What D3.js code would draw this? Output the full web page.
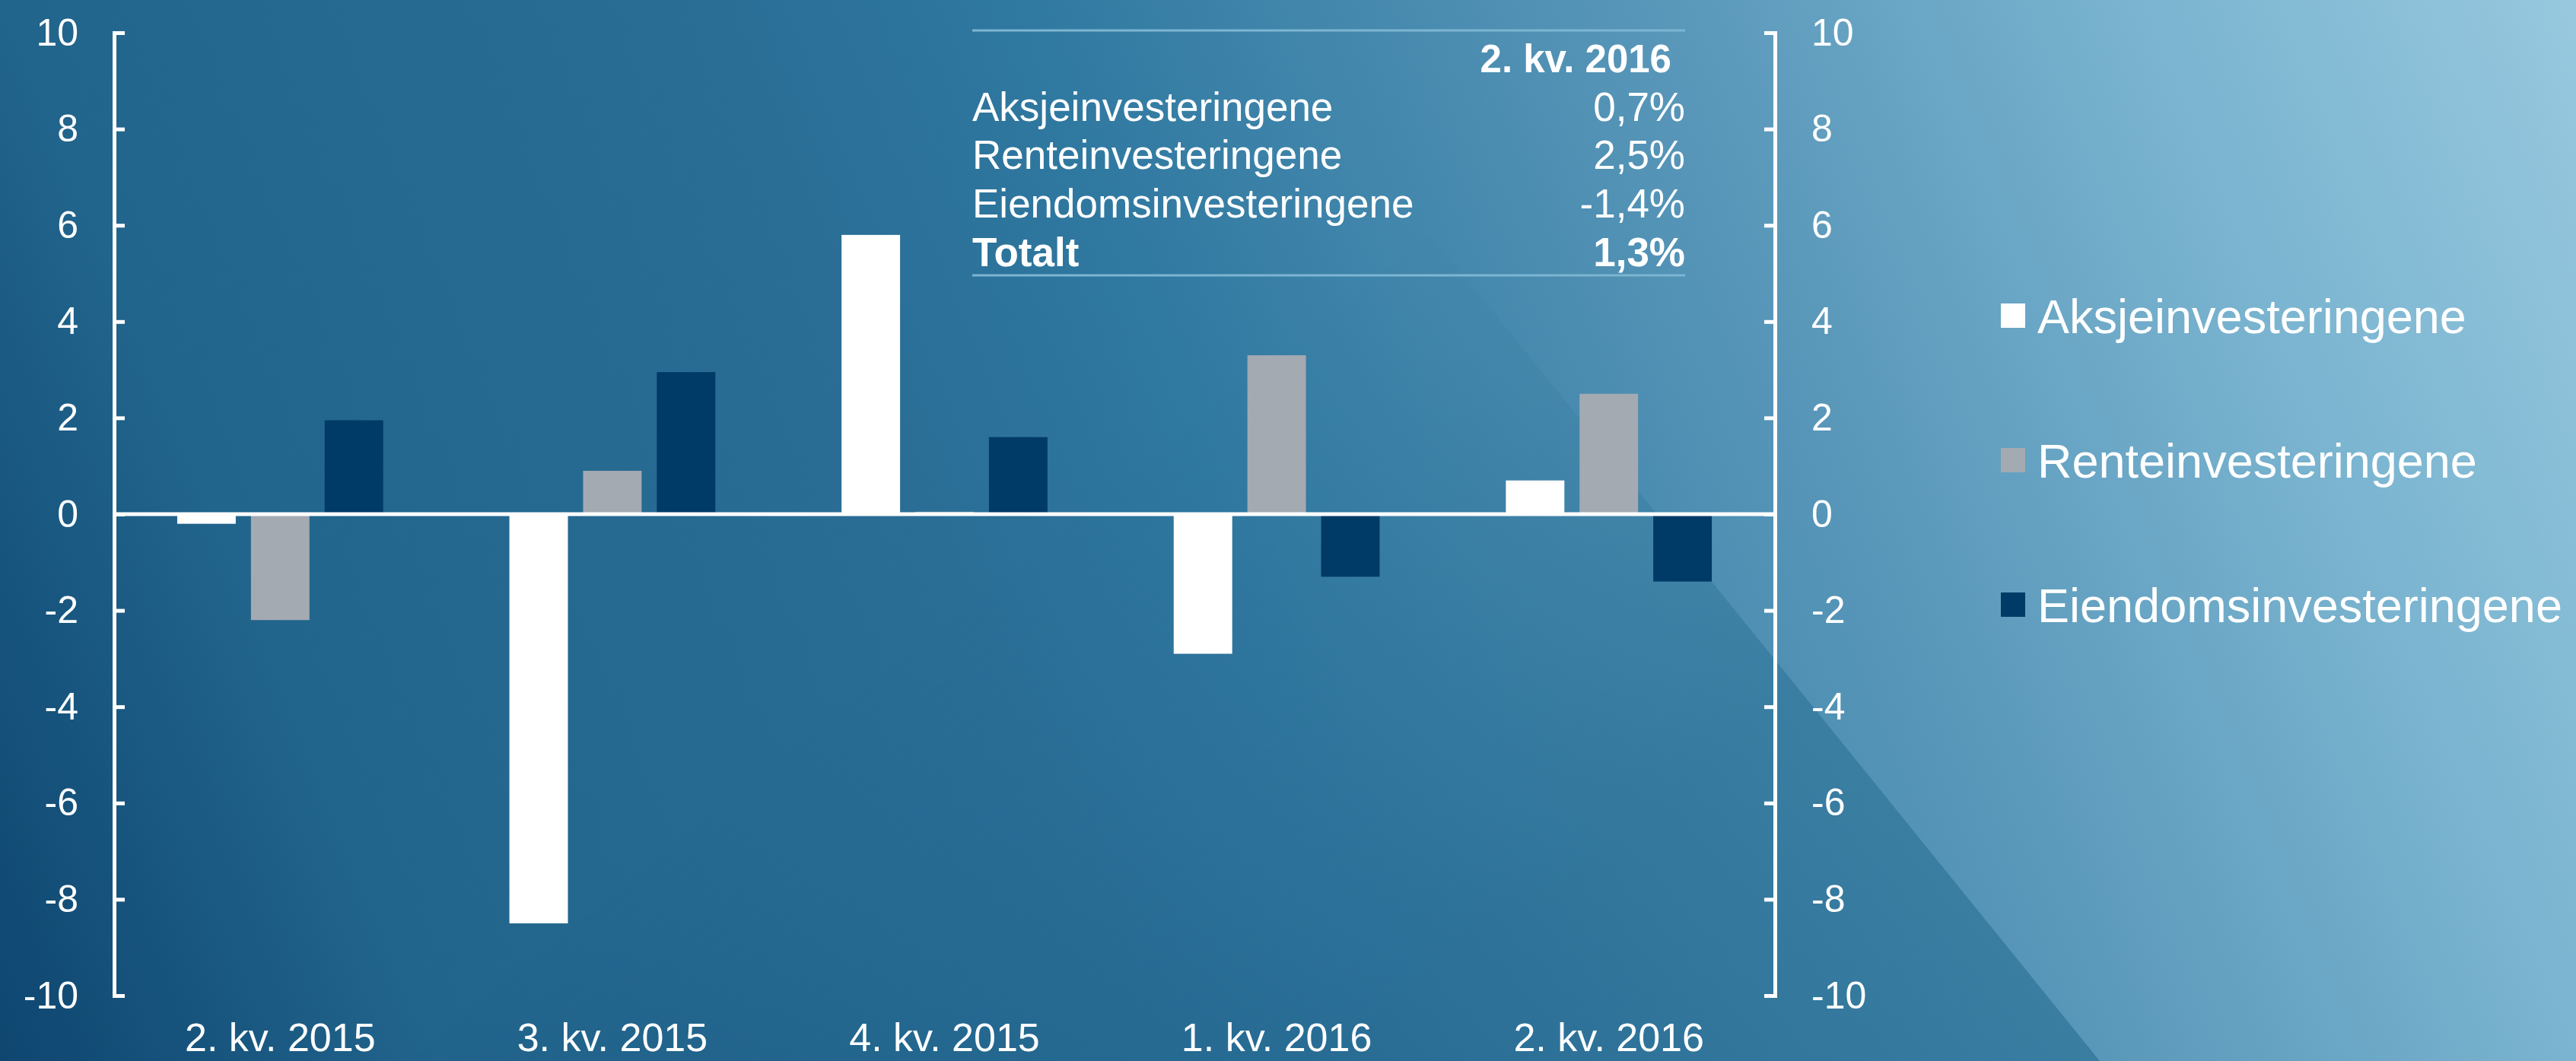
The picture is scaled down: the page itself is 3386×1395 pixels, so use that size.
<!DOCTYPE html>
<html>
<head>
<meta charset="utf-8">
<script src="https://cdn.jsdelivr.net/npm/d3@7"></script>
<style>
  html, body { margin: 0; padding: 0; overflow: hidden; background: #1a5a85; }
  svg { display: block; }
  text { font-family: "Liberation Sans", Arial, sans-serif; fill: #fff; }
</style>
</head>
<body>
<svg id="chart"></svg>
<script>
// DATA
const categories = ["2. kv. 2015", "3. kv. 2015", "4. kv. 2015", "1. kv. 2016", "2. kv. 2016"];
const seriesNames = ["Aksjeinvesteringene", "Renteinvesteringene", "Eiendomsinvesteringene"];
const aksje = [-0.2, -8.5, 5.8, -2.9, 0.7];
const rente = [-2.2, 0.9, 0.05, 3.3, 2.5];
const eiendom = [1.95, 2.95, 1.6, -1.3, -1.4];
const yTicks = [-10, -8, -6, -4, -2, 0, 2, 4, 6, 8, 10];
const tableHeader = "2. kv. 2016";
const tableLabels = ["Aksjeinvesteringene", "Renteinvesteringene", "Eiendomsinvesteringene", "Totalt"];
const tableValues = ["0,7%", "2,5%", "-1,4%", "1,3%"];

const colors = ["#ffffff", "#a4aab1", "#003a66"];

// 1: SIZES
const W = 3386, H = 1395;
const plot = { left: 150, right: 2333, top: 43, bottom: 1309 };

const svg = d3.select("#chart").attr("width", W).attr("height", H);
const defs = svg.append("defs");

// 2: BACKGROUND
// base gradient (light side + top)
const gBase = defs.append("linearGradient").attr("id", "bgBase")
    .attr("gradientUnits", "userSpaceOnUse")
    .attr("x1", 0).attr("y1", H).attr("x2", W).attr("y2", 0);
[[0, "#0e4670"], [0.145, "#21648c"], [0.385, "#2a6e96"], [0.48, "#2f78a0"],
 [0.7, "#5a98ba"], [0.855, "#7ab4d0"], [1, "#97c8de"]]
    .forEach(s => gBase.append("stop").attr("offset", s[0]).attr("stop-color", s[1]));

// darker side, left of the diagonal
const gLeft = defs.append("linearGradient").attr("id", "bgLeft")
    .attr("gradientUnits", "userSpaceOnUse")
    .attr("x1", 0).attr("y1", H).attr("x2", 3472).attr("y2", -1689);
[[0, "#0e4670"], [0.2, "#21648c"], [0.3, "#2a6e96"], [0.45, "#3a7ea2"], [0.7, "#5a97ba"], [1, "#8cc0da"]]
    .forEach(s => gLeft.append("stop").attr("offset", s[0]).attr("stop-color", s[1]));

const gMask = defs.append("linearGradient").attr("id", "fadeGrad")
    .attr("gradientUnits", "userSpaceOnUse")
    .attr("x1", 2760).attr("y1", H).attr("x2", 1631).attr("y2", 0);
gMask.append("stop").attr("offset", 0).attr("stop-color", "#fff");
gMask.append("stop").attr("offset", 0.35).attr("stop-color", "#fff");
gMask.append("stop").attr("offset", 0.55).attr("stop-color", "#888");
gMask.append("stop").attr("offset", 0.78).attr("stop-color", "#000");
defs.append("mask").attr("id", "fadeMask")
    .append("rect").attr("width", W).attr("height", H).attr("fill", "url(#fadeGrad)");

svg.append("rect").attr("width", W).attr("height", H).attr("fill", "url(#bgBase)");
svg.append("path")
    .attr("d", `M0,0 L1631,0 L2760,${H} L0,${H} Z`)
    .attr("fill", "url(#bgLeft)")
    .attr("mask", "url(#fadeMask)");

// 3: SCALES
const x0 = d3.scaleBand().domain(categories)
    .range([plot.left, plot.right]).paddingInner(0.38).paddingOuter(0.19);
const x1 = d3.scaleBand().domain(seriesNames)
    .range([0, x0.bandwidth()]).paddingInner(0.206);
const y = d3.scaleLinear().domain([-10, 10]).range([plot.bottom, plot.top]);

const rows = categories.map((c, i) => ({ cat: c, vals: [aksje[i], rente[i], eiendom[i]] }));

// 4: BARS
svg.append("g").selectAll("g")
    .data(rows)
    .join("g")
    .attr("transform", d => `translate(${x0(d.cat)},0)`)
    .selectAll("rect")
    .data(d => d.vals.map((v, j) => ({ name: seriesNames[j], v: v, j: j })))
    .join("rect")
    .attr("x", d => x1(d.name))
    .attr("width", x1.bandwidth())
    .attr("y", d => y(Math.max(0, d.v)))
    .attr("height", d => Math.abs(y(d.v) - y(0)))
    .attr("fill", d => colors[d.j]);

// zero line
svg.append("line")
    .attr("x1", plot.left).attr("x2", plot.right)
    .attr("y1", y(0)).attr("y2", y(0))
    .attr("stroke", "#fff").attr("stroke-width", 5);

// 5: AXES
function styleAxis(g) {
    g.attr("color", "#fff");
    g.selectAll("path.domain").attr("stroke-width", 5);
    g.selectAll(".tick line").attr("stroke-width", 5);
    g.selectAll("text").attr("font-size", 50).attr("font-family", "Liberation Sans, Arial, sans-serif").style("fill", "#fff");
}

svg.append("g")
    .attr("transform", `translate(${plot.left},0)`)
    .call(d3.axisLeft(y).tickValues(yTicks).tickFormat(d => String(d)).tickSize(-14).tickPadding(47))
    .call(styleAxis);

svg.append("g")
    .attr("transform", `translate(${plot.right},0)`)
    .call(d3.axisRight(y).tickValues(yTicks).tickFormat(d => String(d)).tickSize(-14).tickPadding(48))
    .call(styleAxis);

const xAxis = svg.append("g")
    .attr("transform", `translate(0,${plot.bottom})`)
    .call(d3.axisBottom(x0).tickSize(0).tickPadding(36));
xAxis.select(".domain").remove();
xAxis.selectAll("text").attr("font-size", 52).style("fill", "#fff");

// 6: TABLE
const tbl = { left: 1278, right: 2215, top: 40, bottom: 362 };
const lineColor = "#7db5d2";
svg.append("line").attr("x1", tbl.left).attr("x2", tbl.right)
    .attr("y1", tbl.top).attr("y2", tbl.top)
    .attr("stroke", lineColor).attr("stroke-width", 3);
svg.append("line").attr("x1", tbl.left).attr("x2", tbl.right)
    .attr("y1", tbl.bottom).attr("y2", tbl.bottom)
    .attr("stroke", lineColor).attr("stroke-width", 3);

svg.append("text")
    .attr("x", 2197).attr("y", 95)
    .attr("text-anchor", "end")
    .attr("font-size", 51).attr("font-weight", "bold")
    .text(tableHeader);

const rowY = d3.scalePoint().domain(tableLabels).range([158.5, 350]);

svg.append("g").selectAll("text")
    .data(tableLabels)
    .join("text")
    .attr("x", tbl.left)
    .attr("y", d => rowY(d))
    .attr("font-size", 53)
    .attr("font-weight", d => d === "Totalt" ? "bold" : "normal")
    .text(d => d);

svg.append("g").selectAll("text")
    .data(tableValues)
    .join("text")
    .attr("x", tbl.right)
    .attr("y", (d, i) => rowY(tableLabels[i]))
    .attr("text-anchor", "end")
    .attr("font-size", 53)
    .attr("font-weight", (d, i) => tableLabels[i] === "Totalt" ? "bold" : "normal")
    .text(d => d);

// 7: LEGEND
const legY = d3.scalePoint().domain(seriesNames).range([415, 795]);
const legend = svg.append("g").selectAll("g")
    .data(seriesNames)
    .join("g")
    .attr("transform", d => `translate(2630,${legY(d)})`);

legend.append("rect")
    .attr("x", 0).attr("y", -16)
    .attr("width", 32).attr("height", 32)
    .attr("fill", (d, i) => colors[i]);

legend.append("text")
    .attr("x", 48).attr("y", 0).attr("dy", "0.36em")
    .attr("font-size", 63)
    .text(d => d);
</script>
</body>
</html>
